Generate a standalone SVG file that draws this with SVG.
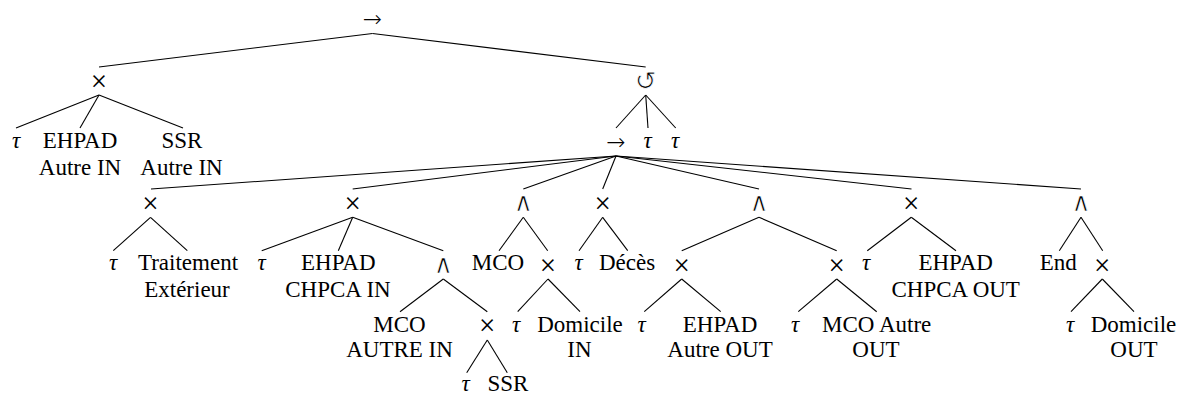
<svg xmlns="http://www.w3.org/2000/svg" width="1177" height="394" viewBox="0 0 1177 394">
<style>
text{font-family:'Liberation Serif','Times New Roman',Times,serif;fill:#000;text-anchor:middle}
.t{font-size:23px}
.g{font-size:23px;font-style:italic}
.x{font-size:29px}
.a{font-family:'DejaVu Sans',sans-serif;font-size:26px;stroke:#fff;stroke-width:0.75px}
.r{font-family:'DejaVu Sans',sans-serif;font-weight:200;font-size:23px}
.l{font-family:'DejaVu Sans',sans-serif;font-size:26px;stroke:#fff;stroke-width:0.8px}
#connectors line{stroke:#000;stroke-width:1.1;fill:none}
</style>
<rect width="1177" height="394" fill="#fff"/>
<g id="connectors">
<line x1="372.5" y1="33.5" x2="99" y2="67"/>
<line x1="372.5" y1="33.5" x2="645.7" y2="67"/>
<line x1="99" y1="95" x2="16" y2="128"/>
<line x1="99" y1="95" x2="80" y2="128"/>
<line x1="99" y1="95" x2="183" y2="128"/>
<line x1="645.7" y1="95" x2="616" y2="128"/>
<line x1="645.7" y1="95" x2="648" y2="128"/>
<line x1="645.7" y1="95" x2="675.7" y2="128"/>
<line x1="616" y1="156" x2="151" y2="189"/>
<line x1="616" y1="156" x2="352.7" y2="189"/>
<line x1="616" y1="156" x2="523.3" y2="189"/>
<line x1="616" y1="156" x2="602.7" y2="189"/>
<line x1="616" y1="156" x2="759" y2="189"/>
<line x1="616" y1="156" x2="911.5" y2="189"/>
<line x1="616" y1="156" x2="1081" y2="189"/>
<line x1="150.5" y1="217.3" x2="113.3" y2="250.7"/>
<line x1="150.5" y1="217.3" x2="187.3" y2="250.7"/>
<line x1="352.7" y1="217.3" x2="261.7" y2="250.7"/>
<line x1="352.7" y1="217.3" x2="338.3" y2="250.7"/>
<line x1="352.7" y1="217.3" x2="443.3" y2="250.7"/>
<line x1="443.3" y1="279" x2="400" y2="311.7"/>
<line x1="443.3" y1="279" x2="487.3" y2="311.7"/>
<line x1="487.3" y1="340" x2="466.7" y2="372.7"/>
<line x1="487.3" y1="340" x2="507.3" y2="372.7"/>
<line x1="523.3" y1="217.3" x2="499" y2="250.7"/>
<line x1="523.3" y1="217.3" x2="547.7" y2="250.7"/>
<line x1="548" y1="279" x2="517.7" y2="311.7"/>
<line x1="548" y1="279" x2="580" y2="311.7"/>
<line x1="602.7" y1="217.3" x2="579" y2="250.7"/>
<line x1="602.7" y1="217.3" x2="627.7" y2="250.7"/>
<line x1="759" y1="217.3" x2="681.7" y2="250.7"/>
<line x1="759" y1="217.3" x2="836.7" y2="250.7"/>
<line x1="681.7" y1="279" x2="644.3" y2="311.7"/>
<line x1="681.7" y1="279" x2="720.7" y2="311.7"/>
<line x1="836.7" y1="279" x2="798.3" y2="311.7"/>
<line x1="836.7" y1="279" x2="876.7" y2="311.7"/>
<line x1="911.3" y1="217.3" x2="867.3" y2="250.7"/>
<line x1="911.3" y1="217.3" x2="956" y2="250.7"/>
<line x1="1081" y1="217.3" x2="1059.3" y2="250.7"/>
<line x1="1081" y1="217.3" x2="1102.7" y2="250.7"/>
<line x1="1102.3" y1="279" x2="1071" y2="311.7"/>
<line x1="1102.3" y1="279" x2="1134" y2="311.7"/>
</g>
<g id="root"><text class="r" x="372.5" y="27">→</text></g>
<g id="xor1"><text class="x" x="99" y="91">×</text></g>
<g id="tau1"><text class="g" x="16" y="148">τ</text></g>
<g id="ehpad-autre-in"><text class="t" x="80" y="148">EHPAD</text><text class="t" x="80" y="175">Autre IN</text></g>
<g id="ssr-autre-in"><text class="t" x="182" y="148">SSR</text><text class="t" x="181.5" y="175">Autre IN</text></g>
<g id="loop"><text class="l" x="645.7" y="90">↺</text></g>
<g id="seq2"><text class="r" x="616" y="150">→</text></g>
<g id="tau2"><text class="g" x="647.5" y="148">τ</text></g>
<g id="tau3"><text class="g" x="675" y="148">τ</text></g>
<g id="xor-c1"><text class="x" x="150.5" y="213">×</text></g>
<g id="tau-c1"><text class="g" x="113" y="270">τ</text></g>
<g id="traitement"><text class="t" x="188" y="270">Traitement</text><text class="t" x="187" y="296.7">Extérieur</text></g>
<g id="xor-c2"><text class="x" x="352.7" y="213">×</text></g>
<g id="tau-c2"><text class="g" x="261.7" y="270">τ</text></g>
<g id="ehpad-chpca-in"><text class="t" x="338.3" y="270">EHPAD</text><text class="t" x="338" y="296.7">CHPCA IN</text></g>
<g id="and-d"><text class="a" x="443.3" y="273">∧</text></g>
<g id="mco-autre-in"><text class="t" x="399.5" y="331.7">MCO</text><text class="t" x="399.5" y="357">AUTRE IN</text></g>
<g id="xor-e"><text class="x" x="487.3" y="335">×</text></g>
<g id="tau-e"><text class="g" x="465.7" y="391">τ</text></g>
<g id="ssr"><text class="t" x="508" y="391">SSR</text></g>
<g id="and-c3"><text class="a" x="523.3" y="211">∧</text></g>
<g id="mco"><text class="t" x="498" y="270">MCO</text></g>
<g id="xor-f"><text class="x" x="548" y="275">×</text></g>
<g id="tau-f"><text class="g" x="516" y="331.7">τ</text></g>
<g id="domicile-in"><text class="t" x="580" y="331.7">Domicile</text><text class="t" x="579.5" y="357">IN</text></g>
<g id="xor-c4"><text class="x" x="602.7" y="213">×</text></g>
<g id="tau-c4"><text class="g" x="578.5" y="270">τ</text></g>
<g id="deces"><text class="t" x="627" y="270">Décès</text></g>
<g id="and-c5"><text class="a" x="759" y="211">∧</text></g>
<g id="xor-g"><text class="x" x="681.7" y="275">×</text></g>
<g id="tau-g"><text class="g" x="641.7" y="331.7">τ</text></g>
<g id="ehpad-autre-out"><text class="t" x="720" y="331.7">EHPAD</text><text class="t" x="720" y="357">Autre OUT</text></g>
<g id="xor-h"><text class="x" x="836.7" y="275">×</text></g>
<g id="tau-h"><text class="g" x="795" y="331.7">τ</text></g>
<g id="mco-autre-out"><text class="t" x="876.7" y="331.7">MCO Autre</text><text class="t" x="876" y="357">OUT</text></g>
<g id="xor-c6"><text class="x" x="911.3" y="213">×</text></g>
<g id="tau-c6"><text class="g" x="866" y="270">τ</text></g>
<g id="ehpad-chpca-out"><text class="t" x="955.7" y="270">EHPAD</text><text class="t" x="955.7" y="296.7">CHPCA OUT</text></g>
<g id="and-c7"><text class="a" x="1081" y="211">∧</text></g>
<g id="end"><text class="t" x="1058.3" y="270">End</text></g>
<g id="xor-i"><text class="x" x="1102.3" y="275">×</text></g>
<g id="tau-i"><text class="g" x="1070" y="331.7">τ</text></g>
<g id="domicile-out"><text class="t" x="1133.5" y="331.7">Domicile</text><text class="t" x="1134" y="357">OUT</text></g>
</svg>
